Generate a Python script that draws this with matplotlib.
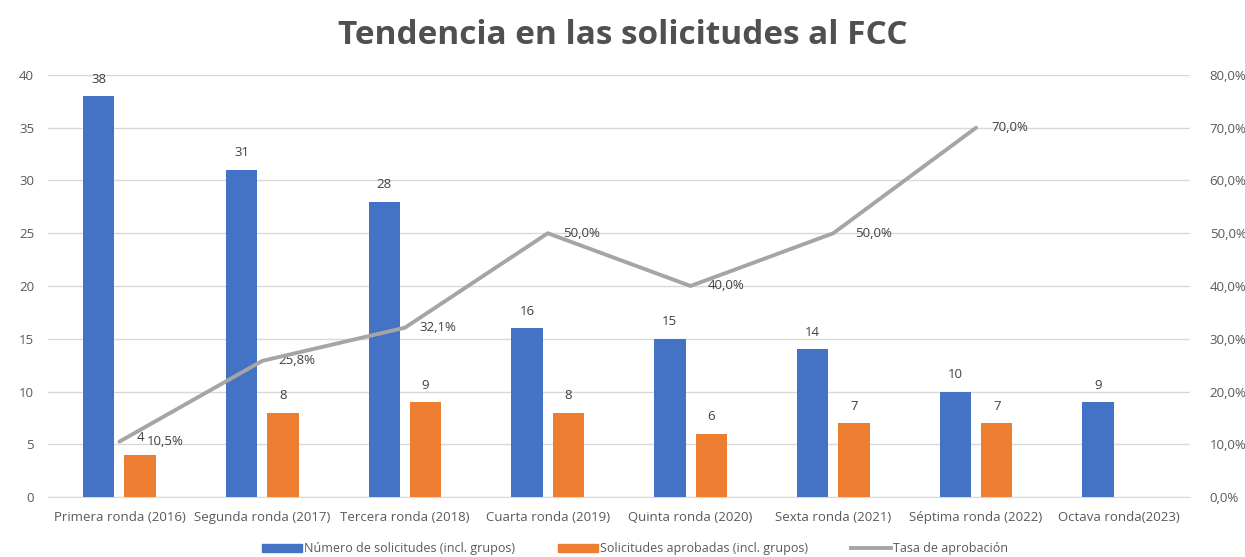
import matplotlib
matplotlib.use("Agg")
import matplotlib.pyplot as plt
import numpy as np
from matplotlib.ticker import FuncFormatter, MultipleLocator
from matplotlib.patches import Patch
from matplotlib.lines import Line2D

categories = ["Primera ronda (2016)", "Segunda ronda (2017)", "Tercera ronda (2018)",
              "Cuarta ronda (2019)", "Quinta ronda (2020)", "Sexta ronda (2021)",
              "Séptima ronda (2022)", "Octava ronda(2023)"]
solicitudes = [38, 31, 28, 16, 15, 14, 10, 9]
aprobadas = [4, 8, 9, 8, 6, 7, 7, None]
tasa = [10.5, 25.8, 32.1, 50.0, 40.0, 50.0, 70.0, None]

blue = "#4472C4"
orange = "#ED7D31"
gray = "#A5A5A5"
txt = "#595959"

plt.rcParams['font.family'] = ['Open Sans', 'DejaVu Sans']

fig = plt.figure(figsize=(12.45, 5.57), dpi=100)
ax = fig.add_axes([0.0386, 0.1077, 0.9174, 0.7577])
ax2 = ax.twinx()

x = np.arange(len(categories))
w = 0.22
off = 0.145
ax.bar(x - off, solicitudes, w, color=blue, zorder=3)
ap_x = [xi + off for xi, v in zip(x, aprobadas) if v is not None]
ap_v = [v for v in aprobadas if v is not None]
ax.bar(ap_x, ap_v, w, color=orange, zorder=3)

for xi, v in zip(x, solicitudes):
    ax.text(xi - off, v + 1.0, str(v), ha="center", va="bottom", fontsize=9.5, color="#404040")
for xi, v in zip(ap_x, ap_v):
    ax.text(xi, v + 1.0, str(v), ha="center", va="bottom", fontsize=9.5, color="#404040")

tx = [xi for xi, v in zip(x, tasa) if v is not None]
tv = [v for v in tasa if v is not None]
ax2.plot(tx, tv, color=gray, linewidth=2.8, zorder=4, solid_capstyle="round")
label_dx = [0.19, 0.11, 0.10, 0.11, 0.12, 0.15, 0.11]
for xi, v, dx in zip(tx, tv, label_dx):
    ax2.text(xi + dx, v, f"{v:.1f}%".replace(".", ","), ha="left", va="center",
             fontsize=9.5, color="#404040")

ax.set_xlim(-0.5, len(categories) - 0.5)
ax.set_ylim(0, 40)
ax2.set_ylim(0, 80)
ax.yaxis.set_major_locator(MultipleLocator(5))
ax2.yaxis.set_major_locator(MultipleLocator(10))
ax2.yaxis.set_major_formatter(FuncFormatter(lambda v, p: f"{v:.1f}%".replace(".", ",")))

ax.set_xticks(x)
ax.set_xticklabels(categories)
ax.grid(axis="y", color="#D9D9D9", linewidth=1, zorder=0)
for a in (ax, ax2):
    for s in a.spines.values():
        s.set_visible(False)
    a.tick_params(length=0, colors=txt, labelsize=9.5)
ax.spines["bottom"].set_visible(True)
ax.spines["bottom"].set_color("#D9D9D9")
ax.tick_params(axis="x", pad=10)
ax.tick_params(axis="y", pad=10)
ax2.tick_params(axis="y", pad=14)

fig.text(0.5, 0.937, "Tendencia en las solicitudes al FCC", ha="center", va="center",
         fontsize=24, fontweight="bold", color="#505050")

handles = [Patch(color=blue, label="Número de solicitudes (incl. grupos)"),
           Patch(color=orange, label="Solicitudes aprobadas (incl. grupos)"),
           Line2D([0], [0], color=gray, linewidth=2.8, label="Tasa de aprobación")]
fig.legend(handles=handles, loc="center", bbox_to_anchor=(0.51, 0.015), ncol=3, frameon=False,
           fontsize=9, labelcolor=txt, handlelength=3.2, handleheight=0.6, handletextpad=0.1,
           columnspacing=3.5)

fig.savefig("out.png", dpi=100)
